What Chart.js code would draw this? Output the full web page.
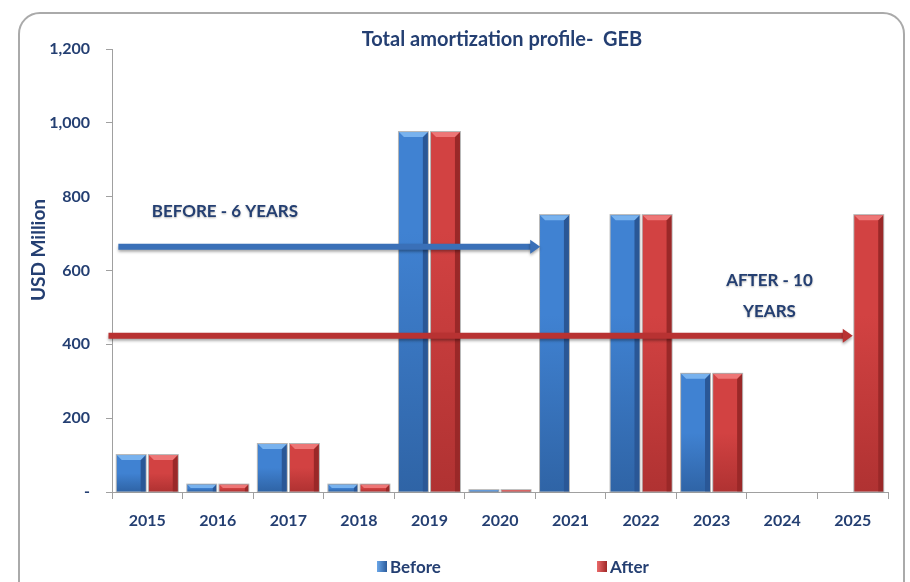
<!DOCTYPE html>
<html>
<head>
<meta charset="utf-8">
<script src="https://cdn.jsdelivr.net/npm/chart.js@4/dist/chart.umd.min.js"></script>
<style>
  html, body { margin: 0; padding: 0; background: #fff; overflow: hidden; }
  #wrap { position: relative; width: 910px; height: 582px; }
  #frame { position: absolute; left: 18px; top: 12px; width: 887px; height: 620px;
           border: 2px solid #aaaaaa; border-radius: 22px; box-sizing: border-box; }
  canvas { position: absolute; left: 0; top: 0; }
  #legend { position: absolute; top: 556px; left: 0; width: 910px; font: bold 17px Lato, sans-serif; color: #243f72; }
  .item { position: absolute; display: flex; align-items: center; }
  .box { width: 10px; height: 11px; margin-right: 3px; }
</style>
</head>
<body>
<div id="wrap">
  <div id="frame"></div>
  <canvas id="amortChart" width="910" height="582"></canvas>
  <div id="legend">
    <div class="item" style="left:377px"><span class="box" style="background:linear-gradient(90deg,#6aa6e8,#2c5c9c)"></span>Before</div>
    <div class="item" style="left:597px"><span class="box" style="background:linear-gradient(90deg,#ea6a6a,#a02828)"></span>After</div>
  </div>
</div>
<script>
// Amortization by year, USD million
const years = ['2015', '2016', '2017', '2018', '2019', '2020', '2021', '2022', '2023', '2024', '2025'];
const before = [100, 20, 130, 20, 975, 5, 750, 750, 320, 0, 0];
const after = [100, 20, 130, 20, 975, 5, 0, 750, 320, 0, 750];

// arrows and notes, in category index / value units
const arrows = [
    { from: -0.41, to: 5.57, y: 664, color: '#3a70b8' },
    { from: -0.55, to: 10.0, y: 423, color: '#b83232' }
];
const notes = [
    { text: 'BEFORE - 6 YEARS', x: 1.10, y: 761 },
    { text: 'AFTER - 10', x: 8.82, y: 572 },
    { text: 'YEARS', x: 8.82, y: 488 }
];

const navy = '#243f72';
const font = 'Lato, "Open Sans", sans-serif';

// shading for each series: top bevel, main, bottom, right edge
const shades = [
    { top: '#78b2ee', main: '#4082d2', bottom: '#2f64a6', edge: '#2a5796' },
    { top: '#ee7676', main: '#d24242', bottom: '#b03232', edge: '#9a2828' }
];

const bevel = {
    id: 'bevel',
    afterDatasetsDraw(chart) {
        const ctx = chart.ctx;
        ctx.save();
        chart.data.datasets.forEach((ds, i) => {
            const s = shades[i];
            chart.getDatasetMeta(i).data.forEach(bar => {
                const left = bar.x - bar.width / 2;
                const right = bar.x + bar.width / 2;
                const top = Math.min(bar.y, bar.base);
                const h = Math.abs(bar.base - bar.y);
                if (h < 1) return;
                const g = ctx.createLinearGradient(0, top, 0, top + h);
                g.addColorStop(0, s.main);
                g.addColorStop(Math.min(1, 200 / h) * 0.5, s.main);
                g.addColorStop(1, s.bottom);
                ctx.fillStyle = g;
                ctx.fillRect(left, top, right - left, h);
                const b = Math.min(5, h / 2);
                // right edge
                ctx.fillStyle = s.edge;
                ctx.beginPath();
                ctx.moveTo(right, top);
                ctx.lineTo(right, top + h);
                ctx.lineTo(right - b, top + h);
                ctx.lineTo(right - b, top + b);
                ctx.closePath();
                ctx.fill();
                // top bevel
                ctx.fillStyle = s.top;
                ctx.beginPath();
                ctx.moveTo(left, top);
                ctx.lineTo(right, top);
                ctx.lineTo(right - b, top + b);
                ctx.lineTo(left + b, top + b);
                ctx.closePath();
                ctx.fill();
                // outline
                ctx.strokeStyle = 'rgba(150,150,150,0.7)';
                ctx.lineWidth = 1;
                ctx.strokeRect(left - 0.5, top - 0.5, right - left + 1, h + 1);
            });
        });
        ctx.restore();
    }
};

const overlay = {
    id: 'overlay',
    afterDatasetsDraw(chart) {
        const { ctx, scales: { x, y } } = chart;
        ctx.save();
        ctx.fillStyle = navy;
        ctx.textAlign = 'center';
        ctx.textBaseline = 'middle';
        // title
        ctx.font = 'bold 20px ' + font;
        ctx.fillText('Total amortization profile-  GEB', 502, 40);
        // y axis title
        ctx.save();
        ctx.translate(39, 250);
        ctx.rotate(-Math.PI / 2);
        ctx.font = 'bold 19px ' + font;
        ctx.fillText('USD Million', 0, 0);
        ctx.restore();

        // arrows
        arrows.forEach(a => {
            const x0 = x.getPixelForValue(a.from);
            const x1 = x.getPixelForValue(a.to);
            const py = y.getPixelForValue(a.y);
            ctx.shadowColor = 'rgba(0,0,0,0.35)';
            ctx.shadowBlur = 3;
            ctx.shadowOffsetY = 2;
            ctx.strokeStyle = a.color;
            ctx.fillStyle = a.color;
            ctx.lineWidth = 6;
            ctx.beginPath();
            ctx.moveTo(x0, py);
            ctx.lineTo(x1 - 8, py);
            ctx.stroke();
            ctx.beginPath();
            ctx.moveTo(x1, py);
            ctx.lineTo(x1 - 10, py - 7);
            ctx.lineTo(x1 - 10, py + 7);
            ctx.closePath();
            ctx.fill();
        });

        // notes
        ctx.shadowColor = 'rgba(0,0,0,0.3)';
        ctx.shadowBlur = 2;
        ctx.shadowOffsetY = 1;
        ctx.fillStyle = navy;
        ctx.font = 'bold 17px ' + font;
        notes.forEach(n => {
            ctx.fillText(n.text, x.getPixelForValue(n.x), y.getPixelForValue(n.y));
        });
        ctx.restore();
    }
};

const ctx = document.getElementById('amortChart').getContext('2d');
const amortChart = new Chart(ctx, {
    type: 'bar',
    data: {
        labels: years,
        datasets: [{
            label: 'Before',
            data: before,
            backgroundColor: '#4082d2',
            borderWidth: 0,
            categoryPercentage: 0.91,
            barPercentage: 0.9
        }, {
            label: 'After',
            data: after,
            backgroundColor: '#d24242',
            borderWidth: 0,
            categoryPercentage: 0.91,
            barPercentage: 0.9
        }]
    },
    plugins: [bevel, overlay],
    options: {
        responsive: false,
        animation: false,
        layout: { padding: { left: 26, right: 22, top: 49, bottom: 48 } },
        plugins: {
            legend: { display: false },
            tooltip: { enabled: false }
        },
        scales: {
            x: {
                afterFit: s => { s.height = 42; },
                grid: { drawOnChartArea: false, color: '#a0a0a0', tickLength: 7, offset: true },
                border: { color: '#a0a0a0' },
                ticks: { color: navy, font: { family: font, size: 16, weight: 'bold' }, padding: 12 }
            },
            y: {
                min: 0,
                max: 1200,
                afterFit: s => { s.width = 86; },
                grid: { drawOnChartArea: false, color: '#a0a0a0', tickLength: 6 },
                border: { color: '#a0a0a0' },
                ticks: {
                    stepSize: 200,
                    color: navy,
                    font: { family: font, size: 16, weight: 'bold' },
                    padding: 16,
                    callback: v => v === 0 ? '-' : v.toLocaleString('en-US')
                }
            }
        }
    }
});
</script>
</body>
</html>
